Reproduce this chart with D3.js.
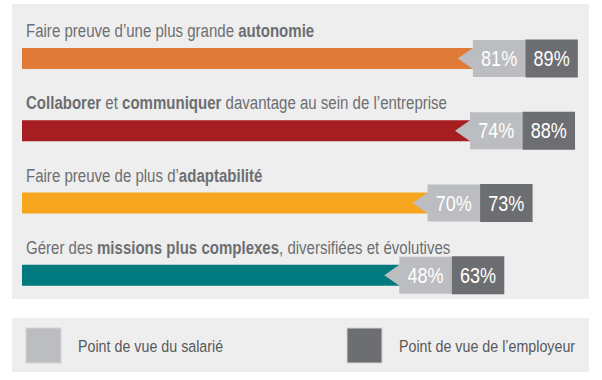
<!DOCTYPE html>
<html>
<head>
<meta charset="utf-8">
<script src="https://cdn.jsdelivr.net/npm/d3@7"></script>
<style>
  body { margin: 0; background: #fff; }
  text { font-family: "Liberation Sans", Arial, sans-serif; }
</style>
</head>
<body>
<div id="chart"></div>
<script>
// labels, split in [text, bold] pieces
const labels = [
    [["Faire preuve d\u2019une plus grande ", false], ["autonomie", true]],
    [["Collaborer", true], [" et ", false], ["communiquer", true], [" davantage au sein de l\u2019entreprise", false]],
    [["Faire preuve de plus d\u2019", false], ["adaptabilit\u00e9", true]],
    [["G\u00e9rer des ", false], ["missions plus complexes", true], [", diversifi\u00e9es et \u00e9volutives", false]],
];
const salarie = [81, 74, 70, 48];
const employeur = [89, 88, 73, 63];
const barColors = ["#e07a38", "#a61e22", "#f7a51c", "#00797f"];
const legendLabels = ["Point de vue du salari\u00e9", "Point de vue de l\u2019employeur"];

const width = 602;
const height = 380;
const lightGrey = "#bcbdc0";
const darkGrey = "#6d6e71";
const textGrey = "#6d6e71";
const squeeze = 0.84; // condensed look

const svg = d3
    .select("#chart")
    .append("svg")
    .attr("width", width)
    .attr("height", height);

// panels
svg.append("rect").attr("x", 12).attr("y", 4).attr("width", 577).attr("height", 295).attr("fill", "#eeeeee");
svg.append("rect").attr("x", 12).attr("y", 318).attr("width", 577).attr("height", 54).attr("fill", "#eeeeee");

const idx = d3.range(labels.length);
const y = d3.scaleBand().domain(idx).range([22, 311]);
// right end of the employer box
const x = d3.scaleLinear().domain([0, 100]).range([326, 609]);

const barLeft = 22;
const barH = 21;
const boxW = 52.5;
const boxH = 37;
const arrow = 15;

const rows = svg
    .selectAll("g.row")
    .data(idx)
    .enter()
    .append("g")
    .attr("class", "row")
    .attr("transform", (i) => `translate(0, ${y(i) + 36.5})`);

// label text
rows.append("g")
    .attr("transform", "translate(26, -21.5) scale(0.835, 1)")
    .append("text")
    .attr("fill", textGrey)
    .attr("font-size", "18px")
    .selectAll("tspan")
    .data((i) => labels[i])
    .enter()
    .append("tspan")
    .attr("font-weight", (d) => (d[1] ? "bold" : "normal"))
    .text((d) => d[0]);

// coloured bar
rows.append("rect")
    .attr("x", barLeft)
    .attr("y", -barH / 2)
    .attr("width", (i) => x(employeur[i]) - 2 * boxW - barLeft)
    .attr("height", barH)
    .attr("fill", (i) => barColors[i]);

// salarié box with arrow
rows.append("path")
    .attr("d", (i) => {
        const l = x(employeur[i]) - 2 * boxW;
        return `M${l - arrow},0 L${l},${-barH / 2} L${l},${-boxH / 2} L${l + boxW},${-boxH / 2}
                L${l + boxW},${boxH / 2} L${l},${boxH / 2} L${l},${barH / 2} Z`;
    })
    .attr("fill", lightGrey);

// employer box
rows.append("rect")
    .attr("x", (i) => x(employeur[i]) - boxW)
    .attr("y", -boxH / 2 - 0.5)
    .attr("width", boxW)
    .attr("height", boxH + 1)
    .attr("fill", darkGrey);

rows.append("g")
    .attr("transform", (i) => `translate(${x(employeur[i]) - 1.5 * boxW}, 7.5) scale(0.82, 1)`)
    .append("text")
    .attr("text-anchor", "middle")
    .attr("fill", "#fff")
    .attr("font-size", "22px")
    .text((i) => salarie[i] + "%");

rows.append("g")
    .attr("transform", (i) => `translate(${x(employeur[i]) - 0.5 * boxW}, 7.5) scale(0.82, 1)`)
    .append("text")
    .attr("text-anchor", "middle")
    .attr("fill", "#fff")
    .attr("font-size", "22px")
    .text((i) => employeur[i] + "%");

// legend
const legendX = [26, 347];
const legend = svg
    .selectAll("g.legend")
    .data(legendLabels)
    .enter()
    .append("g")
    .attr("class", "legend")
    .attr("transform", (d, i) => `translate(${legendX[i]}, 328)`);

legend.append("rect")
    .attr("width", 35)
    .attr("height", 35)
    .attr("fill", (d, i) => (i === 0 ? lightGrey : darkGrey))
    .attr("stroke", "#d4d4d4")
    .attr("stroke-width", 1);

legend.append("g")
    .attr("transform", `translate(52, 24) scale(${squeeze}, 1)`)
    .append("text")
    .attr("fill", "#58595b")
    .attr("font-size", "17px")
    .text((d) => d);
</script>
</body>
</html>
